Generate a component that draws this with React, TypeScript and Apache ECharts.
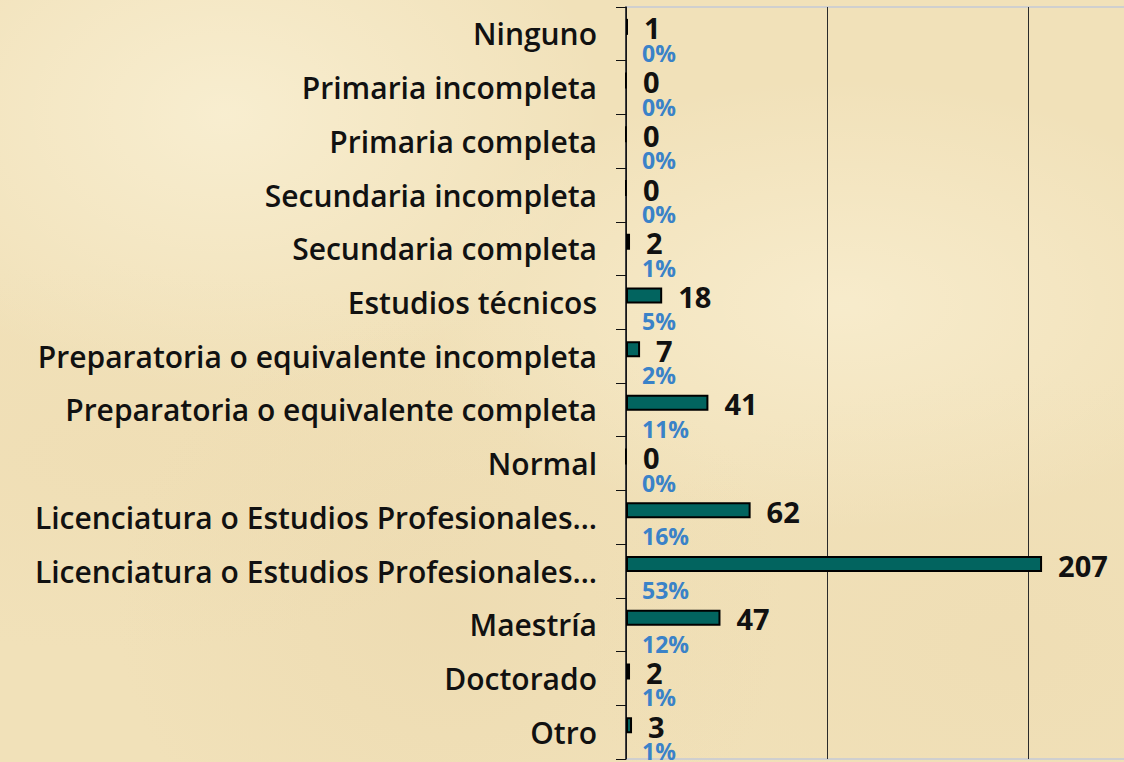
import React, { useEffect, useRef } from "react";
import * as echarts from "echarts";

const categories = [
  "Ninguno",
  "Primaria incompleta",
  "Primaria completa",
  "Secundaria incompleta",
  "Secundaria completa",
  "Estudios técnicos",
  "Preparatoria o equivalente incompleta",
  "Preparatoria o equivalente completa",
  "Normal",
  "Licenciatura o Estudios Profesionales…",
  "Licenciatura o Estudios Profesionales… ",
  "Maestría",
  "Doctorado",
  "Otro",
];
const counts = [1, 0, 0, 0, 2, 18, 7, 41, 0, 62, 207, 47, 2, 3];
const percents = [0, 0, 0, 0, 1, 5, 2, 11, 0, 16, 53, 12, 1, 1];
const xTicks = [0, 100, 200, 300];

const FONT = "'Open Sans', Lato, sans-serif";

export default function App() {
  const ref = useRef<HTMLDivElement>(null);
  useEffect(() => {
    document.body.style.margin = "0";
    const chart = echarts.init(ref.current!, null, { renderer: "svg" });
    chart.setOption({
      animation: false,
      backgroundColor: "transparent",
      grid: {
        left: 626,
        right: 0,
        top: 7,
        bottom: 3,
        show: true,
        borderColor: "#cfcfcf",
        borderWidth: 2,
        backgroundColor: "transparent",
      },
      xAxis: {
        type: "value",
        min: xTicks[0],
        max: xTicks[xTicks.length - 1],
        interval: 100,
        axisLine: { show: false },
        axisTick: { show: false },
        axisLabel: { show: false },
        splitLine: { show: true, lineStyle: { color: "#2a2a2a", width: 1 } },
      },
      yAxis: {
        type: "category",
        inverse: true,
        data: categories,
        axisLine: { show: true, lineStyle: { color: "#111", width: 1.5 } },
        axisTick: { show: true, length: 10, lineStyle: { color: "#111", width: 1 } },
        axisLabel: {
          margin: 29,
          color: "#111",
          fontFamily: FONT,
          fontSize: 30,
          fontWeight: 600,
          formatter: (v: string) => v.trim(),
        },
      },
      series: [
        {
          type: "bar",
          data: counts,
          barWidth: 16,
          barGap: "0%",
          itemStyle: { color: "#02645f", borderColor: "#000", borderWidth: 2 },
          label: {
            show: true,
            position: "right",
            distance: 16,
            offset: [0, 1],
            color: "#111",
            fontFamily: FONT,
            fontSize: 29,
            fontWeight: "bold",
            lineHeight: 22,
            formatter: "{c}",
          },
        },
        {
          type: "bar",
          data: counts,
          barWidth: 14,
          itemStyle: { color: "rgba(0,0,0,0)", borderWidth: 0 },
          label: {
            show: true,
            position: "insideLeft",
            distance: 16,
            offset: [0, 11],
            color: "#3a82c8",
            fontFamily: FONT,
            fontSize: 23,
            fontWeight: "bold",
            lineHeight: 17,
            formatter: (p: any) => percents[p.dataIndex] + "%",
          },
        },
      ],
    });
    return () => chart.dispose();
  }, []);

  const bg =
    "radial-gradient(ellipse at 20% 15%, rgba(255,250,230,0.5) 0%, rgba(255,250,230,0) 30%)," +
    "radial-gradient(ellipse at 75% 40%, rgba(255,248,226,0.45) 0%, rgba(255,248,226,0) 35%)," +
    "radial-gradient(ellipse at 40% 80%, rgba(230,208,162,0.3) 0%, rgba(230,208,162,0) 35%)," +
    "radial-gradient(ellipse at 90% 85%, rgba(234,214,170,0.3) 0%, rgba(234,214,170,0) 30%)," +
    "radial-gradient(ellipse at 10% 60%, rgba(236,216,172,0.3) 0%, rgba(236,216,172,0) 30%)," +
    "#f1e1b9";

  return (
    <div
      style={{
        position: "fixed",
        left: 0,
        top: 0,
        width: 1124,
        height: 762,
        background: bg,
        overflow: "hidden",
      }}
    >
      <div ref={ref} style={{ width: 1229, height: 762 }} />
    </div>
  );
}
